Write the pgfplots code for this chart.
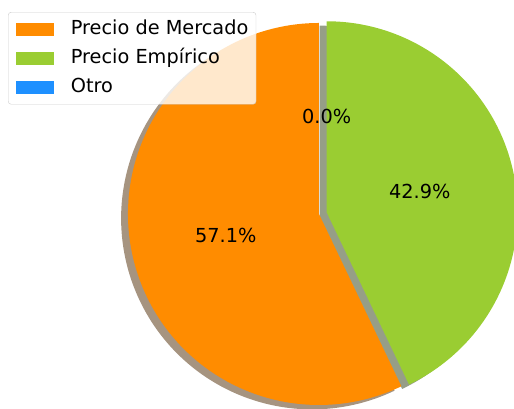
\documentclass[border=0pt]{standalone}
\usepackage{fontspec}
\setmainfont{DejaVu Sans}
\usepackage{pgfplots}
\pgfplotsset{compat=1.18}
\definecolor{cMerc}{HTML}{FF8C00}
\definecolor{cEmp}{HTML}{9ACD32}
\definecolor{cOtro}{HTML}{1E90FF}
\definecolor{shMerc}{HTML}{A69480}
\definecolor{shEmp}{HTML}{969E87}
\definecolor{legframe}{HTML}{CCCCCC}

% shares in percent
\def\pMerc{57.1}
\def\pEmp{42.9}
\def\pOtro{0.0}

\begin{document}
\begin{tikzpicture}[font=\fontsize{19.3}{22}\selectfont]
\pgfmathsetmacro\aA{90}
\pgfmathsetmacro\aB{90+3.6*\pMerc}
\pgfmathsetmacro\aC{\aB+3.6*\pEmp}
\pgfmathsetmacro\mA{(\aA+\aB)/2}
\pgfmathsetmacro\mB{(\aB+\aC)/2}
% explode of the green wedge
\pgfmathsetmacro\ex{0.041*cos(\mB)}
\pgfmathsetmacro\ey{0.041*sin(\mB)}
% shadow offset
\def\shx{0.036}
\def\shy{0.023}
\useasboundingbox (0,0) rectangle (514pt,409pt);
\begin{axis}[
  at={(0,0)}, anchor=south west,
  x=191pt, y=191pt,
  xmin=-1.670, xmax=1.021, ymin=-1.021, ymax=1.120,
  hide axis, clip=true,
  legend cell align=left,
  legend image code/.code={\fill[#1,fill opacity=1,draw=none,sharp corners] (0pt,-6.5pt) rectangle (38pt,6.5pt);},
  legend style={at={(rel axis cs:0.0156,0.9707)}, anchor=north west,
    draw=legframe, fill=white, fill opacity=0.8, text opacity=1,
    rounded corners=3pt, inner xsep=7.7pt, inner ysep=8pt,
    row sep=11pt, column sep=17pt,
    nodes={inner sep=0pt, text height=14pt, text depth=4pt, anchor=west},
    font=\fontsize{19.3}{22}\selectfont},
]
% shadows
\addplot[forget plot, draw=none, fill=shMerc, variable=\t, domain=\aA:\aB, samples=160]
  ({-\shx+cos(\t)}, {-\shy+sin(\t)}) -- (axis cs:-\shx,-\shy) -- cycle;
\addplot[forget plot, draw=none, fill=shEmp, variable=\t, domain=\aB:\aC, samples=140]
  ({\ex-\shx+cos(\t)}, {\ey-\shy+sin(\t)}) -- (axis cs:\ex-\shx,\ey-\shy) -- cycle;
% wedges
\addplot[forget plot, draw=none, fill=cMerc, variable=\t, domain=\aA:\aB, samples=160]
  ({cos(\t)}, {sin(\t)}) -- (axis cs:0,0) -- cycle;
\addplot[forget plot, draw=none, fill=cEmp, variable=\t, domain=\aB:\aC, samples=140]
  ({\ex+cos(\t)}, {\ey+sin(\t)}) -- (axis cs:\ex,\ey) -- cycle;
% percentage labels
\node at (axis cs:{0.5*cos(\mA)},{0.5*sin(\mA)}) {\pMerc\%};
\node at (axis cs:{\ex+0.5*cos(\mB)},{\ey+0.5*sin(\mB)}) {\pEmp\%};
\node at (axis cs:{\ex},{\ey+0.5}) {\pOtro\%};
% legend
\addlegendimage{fill=cMerc}
\addlegendentry{Precio de Mercado}
\addlegendimage{fill=cEmp}
\addlegendentry{Precio Empírico}
\addlegendimage{fill=cOtro}
\addlegendentry{Otro}
\end{axis}
\end{tikzpicture}
\end{document}
